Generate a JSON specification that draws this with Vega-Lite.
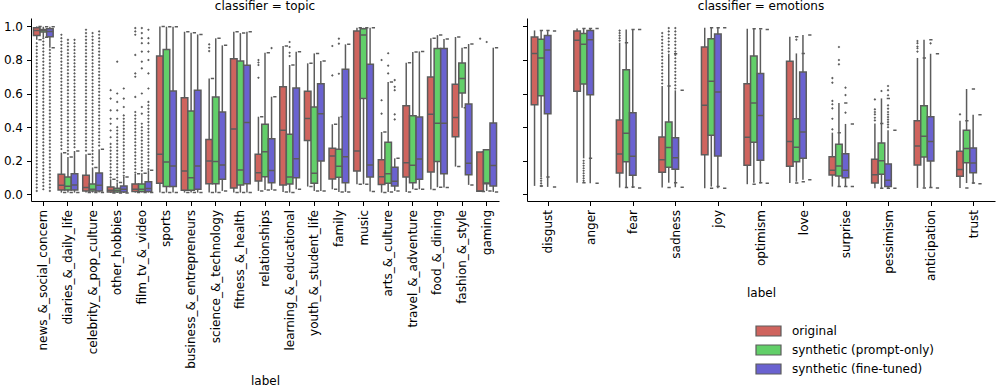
{
"$schema": "https://vega.github.io/schema/vega-lite/v6.json",
"background": "white",
"padding": {"left": 3, "top": 0, "right": 2, "bottom": 0},
"config": {
  "font": "DejaVu Sans",
  "view": {"stroke": null},
  "axis": {"domainColor": "black", "tickColor": "black", "labelColor": "black", "titleColor": "black", "labelFontSize": 12, "titleFontSize": 12, "titleFontWeight": "normal", "grid": false, "tickSize": 4.5, "domainWidth": 1, "tickWidth": 1, "labelPadding": 4, "titlePadding": 7, "labelOverlap": false, "labelBound": false, "labelFlush": false},
  "title": {"fontSize": 12, "fontWeight": "normal", "color": "black", "anchor": "middle", "frame": "group", "offset": 5},
  "concat": {"spacing": 23}
},
"datasets": {
"tb": [
{"l":"news_&_social_concern","h":"o","lo":0.92,"q1":0.946,"med":0.976,"q3":0.992,"hi":1.0},
{"l":"news_&_social_concern","h":"p","lo":0.935,"q1":0.966,"med":0.975,"q3":0.982,"hi":0.998},
{"l":"news_&_social_concern","h":"f","lo":0.873,"q1":0.938,"med":0.97,"q3":0.986,"hi":0.998},
{"l":"diaries_&_daily_life","h":"o","lo":0.01,"q1":0.026,"med":0.054,"q3":0.119,"hi":0.248},
{"l":"diaries_&_daily_life","h":"p","lo":0.01,"q1":0.026,"med":0.048,"q3":0.103,"hi":0.222},
{"l":"diaries_&_daily_life","h":"f","lo":0.01,"q1":0.026,"med":0.056,"q3":0.123,"hi":0.258},
{"l":"celebrity_&_pop_culture","h":"o","lo":0.01,"q1":0.02,"med":0.04,"q3":0.113,"hi":0.238},
{"l":"celebrity_&_pop_culture","h":"p","lo":0.01,"q1":0.02,"med":0.03,"q3":0.062,"hi":0.16},
{"l":"celebrity_&_pop_culture","h":"f","lo":0.01,"q1":0.02,"med":0.054,"q3":0.127,"hi":0.268},
{"l":"other_hobbies","h":"o","lo":0.008,"q1":0.014,"med":0.024,"q3":0.044,"hi":0.089},
{"l":"other_hobbies","h":"p","lo":0.008,"q1":0.014,"med":0.024,"q3":0.036,"hi":0.07},
{"l":"other_hobbies","h":"f","lo":0.008,"q1":0.014,"med":0.03,"q3":0.05,"hi":0.103},
{"l":"film_tv_&_video","h":"o","lo":0.01,"q1":0.016,"med":0.03,"q3":0.062,"hi":0.123},
{"l":"film_tv_&_video","h":"p","lo":0.01,"q1":0.016,"med":0.03,"q3":0.062,"hi":0.125},
{"l":"film_tv_&_video","h":"f","lo":0.01,"q1":0.016,"med":0.035,"q3":0.075,"hi":0.143},
{"l":"sports","h":"o","lo":0.01,"q1":0.065,"med":0.238,"q3":0.823,"hi":1.0},
{"l":"sports","h":"p","lo":0.01,"q1":0.046,"med":0.192,"q3":0.863,"hi":0.998},
{"l":"sports","h":"f","lo":0.01,"q1":0.046,"med":0.169,"q3":0.615,"hi":0.998},
{"l":"business_&_entrepreneurs","h":"o","lo":0.01,"q1":0.024,"med":0.139,"q3":0.575,"hi":0.968},
{"l":"business_&_entrepreneurs","h":"p","lo":0.01,"q1":0.024,"med":0.099,"q3":0.496,"hi":0.962},
{"l":"business_&_entrepreneurs","h":"f","lo":0.01,"q1":0.03,"med":0.169,"q3":0.619,"hi":0.952},
{"l":"science_&_technology","h":"o","lo":0.01,"q1":0.063,"med":0.198,"q3":0.327,"hi":0.69},
{"l":"science_&_technology","h":"p","lo":0.01,"q1":0.063,"med":0.196,"q3":0.579,"hi":0.929},
{"l":"science_&_technology","h":"f","lo":0.02,"q1":0.089,"med":0.175,"q3":0.49,"hi":0.887},
{"l":"fitness_&_health","h":"o","lo":0.01,"q1":0.038,"med":0.389,"q3":0.808,"hi":0.968},
{"l":"fitness_&_health","h":"p","lo":0.01,"q1":0.056,"med":0.145,"q3":0.794,"hi":0.96},
{"l":"fitness_&_health","h":"f","lo":0.01,"q1":0.063,"med":0.427,"q3":0.768,"hi":0.968},
{"l":"relationships","h":"o","lo":0.02,"q1":0.079,"med":0.129,"q3":0.238,"hi":0.462},
{"l":"relationships","h":"p","lo":0.026,"q1":0.105,"med":0.254,"q3":0.417,"hi":0.843},
{"l":"relationships","h":"f","lo":0.026,"q1":0.069,"med":0.141,"q3":0.331,"hi":0.581},
{"l":"learning_&_educational","h":"o","lo":0.014,"q1":0.056,"med":0.381,"q3":0.641,"hi":0.883},
{"l":"learning_&_educational","h":"p","lo":0.01,"q1":0.062,"med":0.103,"q3":0.357,"hi":0.77},
{"l":"learning_&_educational","h":"f","lo":0.03,"q1":0.099,"med":0.212,"q3":0.633,"hi":0.849},
{"l":"youth_&_student_life","h":"o","lo":0.046,"q1":0.321,"med":0.452,"q3":0.613,"hi":0.78},
{"l":"youth_&_student_life","h":"p","lo":0.02,"q1":0.065,"med":0.125,"q3":0.52,"hi":0.839},
{"l":"youth_&_student_life","h":"f","lo":0.02,"q1":0.198,"med":0.48,"q3":0.659,"hi":0.794},
{"l":"family","h":"o","lo":0.03,"q1":0.091,"med":0.228,"q3":0.274,"hi":0.417},
{"l":"family","h":"p","lo":0.014,"q1":0.101,"med":0.167,"q3":0.268,"hi":0.462},
{"l":"family","h":"f","lo":0.014,"q1":0.069,"med":0.224,"q3":0.744,"hi":0.893},
{"l":"music","h":"o","lo":0.06,"q1":0.139,"med":0.258,"q3":0.972,"hi":0.992},
{"l":"music","h":"p","lo":0.06,"q1":0.571,"med":0.948,"q3":0.986,"hi":0.992},
{"l":"music","h":"f","lo":0.016,"q1":0.103,"med":0.175,"q3":0.774,"hi":0.992},
{"l":"arts_&_culture","h":"o","lo":0.01,"q1":0.058,"med":0.105,"q3":0.206,"hi":0.371},
{"l":"arts_&_culture","h":"p","lo":0.014,"q1":0.065,"med":0.123,"q3":0.31,"hi":0.669},
{"l":"arts_&_culture","h":"f","lo":0.02,"q1":0.05,"med":0.077,"q3":0.161,"hi":0.214},
{"l":"travel_&_adventure","h":"o","lo":0.014,"q1":0.103,"med":0.188,"q3":0.528,"hi":0.784},
{"l":"travel_&_adventure","h":"p","lo":0.03,"q1":0.069,"med":0.173,"q3":0.468,"hi":0.847},
{"l":"travel_&_adventure","h":"f","lo":0.03,"q1":0.089,"med":0.21,"q3":0.46,"hi":0.851},
{"l":"food_&_dining","h":"o","lo":0.028,"q1":0.133,"med":0.476,"q3":0.698,"hi":0.929},
{"l":"food_&_dining","h":"p","lo":0.042,"q1":0.196,"med":0.423,"q3":0.869,"hi":0.948},
{"l":"food_&_dining","h":"f","lo":0.04,"q1":0.123,"med":0.423,"q3":0.869,"hi":0.925},
{"l":"fashion_&_style","h":"o","lo":0.165,"q1":0.343,"med":0.458,"q3":0.655,"hi":0.937},
{"l":"fashion_&_style","h":"p","lo":0.516,"q1":0.603,"med":0.69,"q3":0.782,"hi":0.873},
{"l":"fashion_&_style","h":"f","lo":0.056,"q1":0.117,"med":0.185,"q3":0.538,"hi":0.895},
{"l":"gaming","h":"o","lo":0.016,"q1":0.018,"med":0.02,"q3":0.252,"hi":0.252},
{"l":"gaming","h":"p","lo":0.02,"q1":0.063,"med":0.067,"q3":0.266,"hi":0.266},
{"l":"gaming","h":"f","lo":0.014,"q1":0.05,"med":0.171,"q3":0.425,"hi":0.873}
],
"eb": [
{"l":"disgust","h":"o","lo":0.05,"q1":0.534,"med":0.839,"q3":0.937,"hi":0.976},
{"l":"disgust","h":"p","lo":0.103,"q1":0.587,"med":0.812,"q3":0.923,"hi":0.976},
{"l":"disgust","h":"f","lo":0.044,"q1":0.48,"med":0.859,"q3":0.946,"hi":0.972},
{"l":"anger","h":"o","lo":0.069,"q1":0.613,"med":0.917,"q3":0.972,"hi":0.988},
{"l":"anger","h":"p","lo":0.214,"q1":0.657,"med":0.893,"q3":0.958,"hi":0.988},
{"l":"anger","h":"f","lo":0.065,"q1":0.593,"med":0.921,"q3":0.976,"hi":0.988},
{"l":"fear","h":"o","lo":0.04,"q1":0.127,"med":0.24,"q3":0.442,"hi":0.903},
{"l":"fear","h":"p","lo":0.044,"q1":0.194,"med":0.363,"q3":0.742,"hi":0.982},
{"l":"fear","h":"f","lo":0.038,"q1":0.113,"med":0.226,"q3":0.486,"hi":0.982},
{"l":"sadness","h":"o","lo":0.04,"q1":0.131,"med":0.206,"q3":0.341,"hi":0.645},
{"l":"sadness","h":"p","lo":0.069,"q1":0.161,"med":0.278,"q3":0.431,"hi":0.837},
{"l":"sadness","h":"f","lo":0.042,"q1":0.149,"med":0.218,"q3":0.337,"hi":0.619},
{"l":"joy","h":"o","lo":0.036,"q1":0.236,"med":0.53,"q3":0.877,"hi":0.992},
{"l":"joy","h":"p","lo":0.046,"q1":0.351,"med":0.673,"q3":0.927,"hi":0.992},
{"l":"joy","h":"f","lo":0.036,"q1":0.228,"med":0.609,"q3":0.954,"hi":0.992},
{"l":"optimism","h":"o","lo":0.06,"q1":0.173,"med":0.339,"q3":0.659,"hi":0.986},
{"l":"optimism","h":"p","lo":0.069,"q1":0.31,"med":0.544,"q3":0.823,"hi":0.986},
{"l":"optimism","h":"f","lo":0.065,"q1":0.202,"med":0.47,"q3":0.72,"hi":0.982},
{"l":"love","h":"o","lo":0.067,"q1":0.167,"med":0.315,"q3":0.792,"hi":0.938},
{"l":"love","h":"p","lo":0.075,"q1":0.194,"med":0.28,"q3":0.45,"hi":0.839},
{"l":"love","h":"f","lo":0.087,"q1":0.214,"med":0.371,"q3":0.728,"hi":0.948},
{"l":"surprise","h":"o","lo":0.046,"q1":0.115,"med":0.143,"q3":0.224,"hi":0.367},
{"l":"surprise","h":"p","lo":0.046,"q1":0.109,"med":0.169,"q3":0.298,"hi":0.544},
{"l":"surprise","h":"f","lo":0.046,"q1":0.099,"med":0.143,"q3":0.242,"hi":0.419},
{"l":"pessimism","h":"o","lo":0.036,"q1":0.067,"med":0.117,"q3":0.208,"hi":0.421},
{"l":"pessimism","h":"p","lo":0.036,"q1":0.119,"med":0.2,"q3":0.306,"hi":0.571},
{"l":"pessimism","h":"f","lo":0.036,"q1":0.046,"med":0.083,"q3":0.181,"hi":0.381},
{"l":"anticipation","h":"o","lo":0.038,"q1":0.175,"med":0.288,"q3":0.438,"hi":0.812},
{"l":"anticipation","h":"p","lo":0.04,"q1":0.222,"med":0.345,"q3":0.528,"hi":0.921},
{"l":"anticipation","h":"f","lo":0.038,"q1":0.198,"med":0.315,"q3":0.462,"hi":0.837},
{"l":"trust","h":"o","lo":0.038,"q1":0.107,"med":0.147,"q3":0.256,"hi":0.438},
{"l":"trust","h":"p","lo":0.067,"q1":0.188,"med":0.272,"q3":0.381,"hi":0.627},
{"l":"trust","h":"f","lo":0.063,"q1":0.129,"med":0.187,"q3":0.276,"hi":0.474}
],
"to": [
{"l":"news_&_social_concern","h":"o","v":0.02},{"l":"news_&_social_concern","h":"o","v":0.04},{"l":"news_&_social_concern","h":"o","v":0.06},{"l":"news_&_social_concern","h":"o","v":0.08},{"l":"news_&_social_concern","h":"o","v":0.10},{"l":"news_&_social_concern","h":"o","v":0.12},{"l":"news_&_social_concern","h":"o","v":0.14},{"l":"news_&_social_concern","h":"o","v":0.16},{"l":"news_&_social_concern","h":"o","v":0.18},{"l":"news_&_social_concern","h":"o","v":0.20},{"l":"news_&_social_concern","h":"o","v":0.22},{"l":"news_&_social_concern","h":"o","v":0.24},{"l":"news_&_social_concern","h":"o","v":0.26},{"l":"news_&_social_concern","h":"o","v":0.28},{"l":"news_&_social_concern","h":"o","v":0.30},{"l":"news_&_social_concern","h":"o","v":0.32},{"l":"news_&_social_concern","h":"o","v":0.34},{"l":"news_&_social_concern","h":"o","v":0.36},{"l":"news_&_social_concern","h":"o","v":0.38},{"l":"news_&_social_concern","h":"o","v":0.40},{"l":"news_&_social_concern","h":"o","v":0.42},{"l":"news_&_social_concern","h":"o","v":0.44},{"l":"news_&_social_concern","h":"o","v":0.46},{"l":"news_&_social_concern","h":"o","v":0.48},{"l":"news_&_social_concern","h":"o","v":0.50},{"l":"news_&_social_concern","h":"o","v":0.52},{"l":"news_&_social_concern","h":"o","v":0.54},{"l":"news_&_social_concern","h":"o","v":0.56},{"l":"news_&_social_concern","h":"o","v":0.58},{"l":"news_&_social_concern","h":"o","v":0.60},{"l":"news_&_social_concern","h":"o","v":0.62},{"l":"news_&_social_concern","h":"o","v":0.64},{"l":"news_&_social_concern","h":"o","v":0.66},{"l":"news_&_social_concern","h":"o","v":0.68},{"l":"news_&_social_concern","h":"o","v":0.70},{"l":"news_&_social_concern","h":"o","v":0.72},{"l":"news_&_social_concern","h":"o","v":0.74},{"l":"news_&_social_concern","h":"o","v":0.76},{"l":"news_&_social_concern","h":"o","v":0.78},{"l":"news_&_social_concern","h":"o","v":0.80},{"l":"news_&_social_concern","h":"o","v":0.82},{"l":"news_&_social_concern","h":"o","v":0.84},{"l":"news_&_social_concern","h":"o","v":0.86},{"l":"news_&_social_concern","h":"o","v":0.88},{"l":"news_&_social_concern","h":"o","v":0.90},
{"l":"news_&_social_concern","h":"p","v":0.03},{"l":"news_&_social_concern","h":"p","v":0.05},{"l":"news_&_social_concern","h":"p","v":0.07},{"l":"news_&_social_concern","h":"p","v":0.09},{"l":"news_&_social_concern","h":"p","v":0.11},{"l":"news_&_social_concern","h":"p","v":0.13},{"l":"news_&_social_concern","h":"p","v":0.15},{"l":"news_&_social_concern","h":"p","v":0.17},{"l":"news_&_social_concern","h":"p","v":0.19},{"l":"news_&_social_concern","h":"p","v":0.21},{"l":"news_&_social_concern","h":"p","v":0.23},{"l":"news_&_social_concern","h":"p","v":0.25},{"l":"news_&_social_concern","h":"p","v":0.27},{"l":"news_&_social_concern","h":"p","v":0.29},{"l":"news_&_social_concern","h":"p","v":0.31},{"l":"news_&_social_concern","h":"p","v":0.33},{"l":"news_&_social_concern","h":"p","v":0.35},{"l":"news_&_social_concern","h":"p","v":0.37},{"l":"news_&_social_concern","h":"p","v":0.39},{"l":"news_&_social_concern","h":"p","v":0.41},{"l":"news_&_social_concern","h":"p","v":0.43},{"l":"news_&_social_concern","h":"p","v":0.45},{"l":"news_&_social_concern","h":"p","v":0.47},{"l":"news_&_social_concern","h":"p","v":0.49},{"l":"news_&_social_concern","h":"p","v":0.51},{"l":"news_&_social_concern","h":"p","v":0.53},{"l":"news_&_social_concern","h":"p","v":0.55},{"l":"news_&_social_concern","h":"p","v":0.57},{"l":"news_&_social_concern","h":"p","v":0.59},{"l":"news_&_social_concern","h":"p","v":0.61},{"l":"news_&_social_concern","h":"p","v":0.63},{"l":"news_&_social_concern","h":"p","v":0.65},{"l":"news_&_social_concern","h":"p","v":0.67},{"l":"news_&_social_concern","h":"p","v":0.69},{"l":"news_&_social_concern","h":"p","v":0.71},{"l":"news_&_social_concern","h":"p","v":0.73},{"l":"news_&_social_concern","h":"p","v":0.75},{"l":"news_&_social_concern","h":"p","v":0.77},{"l":"news_&_social_concern","h":"p","v":0.79},{"l":"news_&_social_concern","h":"p","v":0.81},{"l":"news_&_social_concern","h":"p","v":0.83},{"l":"news_&_social_concern","h":"p","v":0.85},{"l":"news_&_social_concern","h":"p","v":0.87},{"l":"news_&_social_concern","h":"p","v":0.89},{"l":"news_&_social_concern","h":"p","v":0.91},{"l":"news_&_social_concern","h":"p","v":0.93},
{"l":"news_&_social_concern","h":"f","v":0.02},{"l":"news_&_social_concern","h":"f","v":0.04},{"l":"news_&_social_concern","h":"f","v":0.06},{"l":"news_&_social_concern","h":"f","v":0.08},{"l":"news_&_social_concern","h":"f","v":0.10},{"l":"news_&_social_concern","h":"f","v":0.12},{"l":"news_&_social_concern","h":"f","v":0.14},{"l":"news_&_social_concern","h":"f","v":0.16},{"l":"news_&_social_concern","h":"f","v":0.18},{"l":"news_&_social_concern","h":"f","v":0.20},{"l":"news_&_social_concern","h":"f","v":0.22},{"l":"news_&_social_concern","h":"f","v":0.24},{"l":"news_&_social_concern","h":"f","v":0.26},{"l":"news_&_social_concern","h":"f","v":0.28},{"l":"news_&_social_concern","h":"f","v":0.30},{"l":"news_&_social_concern","h":"f","v":0.32},{"l":"news_&_social_concern","h":"f","v":0.34},{"l":"news_&_social_concern","h":"f","v":0.36},{"l":"news_&_social_concern","h":"f","v":0.38},{"l":"news_&_social_concern","h":"f","v":0.40},{"l":"news_&_social_concern","h":"f","v":0.42},{"l":"news_&_social_concern","h":"f","v":0.44},{"l":"news_&_social_concern","h":"f","v":0.46},{"l":"news_&_social_concern","h":"f","v":0.48},{"l":"news_&_social_concern","h":"f","v":0.50},{"l":"news_&_social_concern","h":"f","v":0.52},{"l":"news_&_social_concern","h":"f","v":0.54},{"l":"news_&_social_concern","h":"f","v":0.56},{"l":"news_&_social_concern","h":"f","v":0.58},{"l":"news_&_social_concern","h":"f","v":0.60},{"l":"news_&_social_concern","h":"f","v":0.62},{"l":"news_&_social_concern","h":"f","v":0.64},{"l":"news_&_social_concern","h":"f","v":0.66},{"l":"news_&_social_concern","h":"f","v":0.68},{"l":"news_&_social_concern","h":"f","v":0.70},{"l":"news_&_social_concern","h":"f","v":0.72},{"l":"news_&_social_concern","h":"f","v":0.74},{"l":"news_&_social_concern","h":"f","v":0.76},{"l":"news_&_social_concern","h":"f","v":0.78},{"l":"news_&_social_concern","h":"f","v":0.80},{"l":"news_&_social_concern","h":"f","v":0.82},{"l":"news_&_social_concern","h":"f","v":0.84},{"l":"news_&_social_concern","h":"f","v":0.86},
{"l":"diaries_&_daily_life","h":"o","v":0.27},{"l":"diaries_&_daily_life","h":"o","v":0.29},{"l":"diaries_&_daily_life","h":"o","v":0.31},{"l":"diaries_&_daily_life","h":"o","v":0.33},{"l":"diaries_&_daily_life","h":"o","v":0.35},{"l":"diaries_&_daily_life","h":"o","v":0.37},{"l":"diaries_&_daily_life","h":"o","v":0.39},{"l":"diaries_&_daily_life","h":"o","v":0.41},{"l":"diaries_&_daily_life","h":"o","v":0.43},{"l":"diaries_&_daily_life","h":"o","v":0.45},{"l":"diaries_&_daily_life","h":"o","v":0.47},{"l":"diaries_&_daily_life","h":"o","v":0.49},{"l":"diaries_&_daily_life","h":"o","v":0.51},{"l":"diaries_&_daily_life","h":"o","v":0.53},{"l":"diaries_&_daily_life","h":"o","v":0.55},{"l":"diaries_&_daily_life","h":"o","v":0.57},{"l":"diaries_&_daily_life","h":"o","v":0.59},{"l":"diaries_&_daily_life","h":"o","v":0.61},{"l":"diaries_&_daily_life","h":"o","v":0.63},{"l":"diaries_&_daily_life","h":"o","v":0.65},{"l":"diaries_&_daily_life","h":"o","v":0.67},{"l":"diaries_&_daily_life","h":"o","v":0.69},{"l":"diaries_&_daily_life","h":"o","v":0.71},{"l":"diaries_&_daily_life","h":"o","v":0.73},{"l":"diaries_&_daily_life","h":"o","v":0.75},{"l":"diaries_&_daily_life","h":"o","v":0.77},{"l":"diaries_&_daily_life","h":"o","v":0.79},{"l":"diaries_&_daily_life","h":"o","v":0.81},{"l":"diaries_&_daily_life","h":"o","v":0.83},{"l":"diaries_&_daily_life","h":"o","v":0.85},{"l":"diaries_&_daily_life","h":"o","v":0.87},{"l":"diaries_&_daily_life","h":"o","v":0.89},{"l":"diaries_&_daily_life","h":"o","v":0.91},{"l":"diaries_&_daily_life","h":"o","v":0.93},{"l":"diaries_&_daily_life","h":"o","v":0.95},
{"l":"diaries_&_daily_life","h":"p","v":0.24},{"l":"diaries_&_daily_life","h":"p","v":0.26},{"l":"diaries_&_daily_life","h":"p","v":0.28},{"l":"diaries_&_daily_life","h":"p","v":0.30},{"l":"diaries_&_daily_life","h":"p","v":0.32},{"l":"diaries_&_daily_life","h":"p","v":0.34},{"l":"diaries_&_daily_life","h":"p","v":0.36},{"l":"diaries_&_daily_life","h":"p","v":0.38},{"l":"diaries_&_daily_life","h":"p","v":0.40},{"l":"diaries_&_daily_life","h":"p","v":0.42},{"l":"diaries_&_daily_life","h":"p","v":0.44},{"l":"diaries_&_daily_life","h":"p","v":0.46},{"l":"diaries_&_daily_life","h":"p","v":0.48},{"l":"diaries_&_daily_life","h":"p","v":0.50},{"l":"diaries_&_daily_life","h":"p","v":0.52},{"l":"diaries_&_daily_life","h":"p","v":0.54},{"l":"diaries_&_daily_life","h":"p","v":0.56},{"l":"diaries_&_daily_life","h":"p","v":0.58},{"l":"diaries_&_daily_life","h":"p","v":0.60},{"l":"diaries_&_daily_life","h":"p","v":0.62},{"l":"diaries_&_daily_life","h":"p","v":0.64},{"l":"diaries_&_daily_life","h":"p","v":0.66},{"l":"diaries_&_daily_life","h":"p","v":0.68},{"l":"diaries_&_daily_life","h":"p","v":0.70},{"l":"diaries_&_daily_life","h":"p","v":0.72},{"l":"diaries_&_daily_life","h":"p","v":0.74},{"l":"diaries_&_daily_life","h":"p","v":0.76},{"l":"diaries_&_daily_life","h":"p","v":0.78},{"l":"diaries_&_daily_life","h":"p","v":0.80},{"l":"diaries_&_daily_life","h":"p","v":0.82},{"l":"diaries_&_daily_life","h":"p","v":0.84},{"l":"diaries_&_daily_life","h":"p","v":0.86},{"l":"diaries_&_daily_life","h":"p","v":0.88},{"l":"diaries_&_daily_life","h":"p","v":0.90},{"l":"diaries_&_daily_life","h":"p","v":0.92},
{"l":"diaries_&_daily_life","h":"f","v":0.28},{"l":"diaries_&_daily_life","h":"f","v":0.30},{"l":"diaries_&_daily_life","h":"f","v":0.32},{"l":"diaries_&_daily_life","h":"f","v":0.34},{"l":"diaries_&_daily_life","h":"f","v":0.36},{"l":"diaries_&_daily_life","h":"f","v":0.38},{"l":"diaries_&_daily_life","h":"f","v":0.40},{"l":"diaries_&_daily_life","h":"f","v":0.42},{"l":"diaries_&_daily_life","h":"f","v":0.44},{"l":"diaries_&_daily_life","h":"f","v":0.46},{"l":"diaries_&_daily_life","h":"f","v":0.48},{"l":"diaries_&_daily_life","h":"f","v":0.50},{"l":"diaries_&_daily_life","h":"f","v":0.52},{"l":"diaries_&_daily_life","h":"f","v":0.54},{"l":"diaries_&_daily_life","h":"f","v":0.56},{"l":"diaries_&_daily_life","h":"f","v":0.58},{"l":"diaries_&_daily_life","h":"f","v":0.60},{"l":"diaries_&_daily_life","h":"f","v":0.62},{"l":"diaries_&_daily_life","h":"f","v":0.64},{"l":"diaries_&_daily_life","h":"f","v":0.66},{"l":"diaries_&_daily_life","h":"f","v":0.68},{"l":"diaries_&_daily_life","h":"f","v":0.70},{"l":"diaries_&_daily_life","h":"f","v":0.72},{"l":"diaries_&_daily_life","h":"f","v":0.74},{"l":"diaries_&_daily_life","h":"f","v":0.76},{"l":"diaries_&_daily_life","h":"f","v":0.78},{"l":"diaries_&_daily_life","h":"f","v":0.80},{"l":"diaries_&_daily_life","h":"f","v":0.82},{"l":"diaries_&_daily_life","h":"f","v":0.84},{"l":"diaries_&_daily_life","h":"f","v":0.86},{"l":"diaries_&_daily_life","h":"f","v":0.88},{"l":"diaries_&_daily_life","h":"f","v":0.90},{"l":"diaries_&_daily_life","h":"f","v":0.92},
{"l":"celebrity_&_pop_culture","h":"o","v":0.26},{"l":"celebrity_&_pop_culture","h":"o","v":0.28},{"l":"celebrity_&_pop_culture","h":"o","v":0.30},{"l":"celebrity_&_pop_culture","h":"o","v":0.32},{"l":"celebrity_&_pop_culture","h":"o","v":0.34},{"l":"celebrity_&_pop_culture","h":"o","v":0.36},{"l":"celebrity_&_pop_culture","h":"o","v":0.38},{"l":"celebrity_&_pop_culture","h":"o","v":0.40},{"l":"celebrity_&_pop_culture","h":"o","v":0.42},{"l":"celebrity_&_pop_culture","h":"o","v":0.44},{"l":"celebrity_&_pop_culture","h":"o","v":0.46},{"l":"celebrity_&_pop_culture","h":"o","v":0.48},{"l":"celebrity_&_pop_culture","h":"o","v":0.50},{"l":"celebrity_&_pop_culture","h":"o","v":0.52},{"l":"celebrity_&_pop_culture","h":"o","v":0.54},{"l":"celebrity_&_pop_culture","h":"o","v":0.56},{"l":"celebrity_&_pop_culture","h":"o","v":0.58},{"l":"celebrity_&_pop_culture","h":"o","v":0.60},{"l":"celebrity_&_pop_culture","h":"o","v":0.62},{"l":"celebrity_&_pop_culture","h":"o","v":0.64},{"l":"celebrity_&_pop_culture","h":"o","v":0.66},{"l":"celebrity_&_pop_culture","h":"o","v":0.68},{"l":"celebrity_&_pop_culture","h":"o","v":0.70},{"l":"celebrity_&_pop_culture","h":"o","v":0.72},{"l":"celebrity_&_pop_culture","h":"o","v":0.74},{"l":"celebrity_&_pop_culture","h":"o","v":0.76},{"l":"celebrity_&_pop_culture","h":"o","v":0.78},{"l":"celebrity_&_pop_culture","h":"o","v":0.80},{"l":"celebrity_&_pop_culture","h":"o","v":0.82},{"l":"celebrity_&_pop_culture","h":"o","v":0.84},{"l":"celebrity_&_pop_culture","h":"o","v":0.86},{"l":"celebrity_&_pop_culture","h":"o","v":0.88},{"l":"celebrity_&_pop_culture","h":"o","v":0.90},{"l":"celebrity_&_pop_culture","h":"o","v":0.92},{"l":"celebrity_&_pop_culture","h":"o","v":0.94},{"l":"celebrity_&_pop_culture","h":"o","v":0.96},{"l":"celebrity_&_pop_culture","h":"o","v":0.98},
{"l":"celebrity_&_pop_culture","h":"p","v":0.18},{"l":"celebrity_&_pop_culture","h":"p","v":0.20},{"l":"celebrity_&_pop_culture","h":"p","v":0.22},{"l":"celebrity_&_pop_culture","h":"p","v":0.24},{"l":"celebrity_&_pop_culture","h":"p","v":0.26},{"l":"celebrity_&_pop_culture","h":"p","v":0.28},{"l":"celebrity_&_pop_culture","h":"p","v":0.30},{"l":"celebrity_&_pop_culture","h":"p","v":0.32},{"l":"celebrity_&_pop_culture","h":"p","v":0.34},{"l":"celebrity_&_pop_culture","h":"p","v":0.36},{"l":"celebrity_&_pop_culture","h":"p","v":0.38},{"l":"celebrity_&_pop_culture","h":"p","v":0.40},{"l":"celebrity_&_pop_culture","h":"p","v":0.42},{"l":"celebrity_&_pop_culture","h":"p","v":0.44},{"l":"celebrity_&_pop_culture","h":"p","v":0.46},{"l":"celebrity_&_pop_culture","h":"p","v":0.48},{"l":"celebrity_&_pop_culture","h":"p","v":0.50},{"l":"celebrity_&_pop_culture","h":"p","v":0.52},{"l":"celebrity_&_pop_culture","h":"p","v":0.54},{"l":"celebrity_&_pop_culture","h":"p","v":0.56},{"l":"celebrity_&_pop_culture","h":"p","v":0.58},{"l":"celebrity_&_pop_culture","h":"p","v":0.60},{"l":"celebrity_&_pop_culture","h":"p","v":0.62},{"l":"celebrity_&_pop_culture","h":"p","v":0.64},{"l":"celebrity_&_pop_culture","h":"p","v":0.66},{"l":"celebrity_&_pop_culture","h":"p","v":0.68},{"l":"celebrity_&_pop_culture","h":"p","v":0.70},{"l":"celebrity_&_pop_culture","h":"p","v":0.72},{"l":"celebrity_&_pop_culture","h":"p","v":0.74},{"l":"celebrity_&_pop_culture","h":"p","v":0.76},{"l":"celebrity_&_pop_culture","h":"p","v":0.78},{"l":"celebrity_&_pop_culture","h":"p","v":0.80},{"l":"celebrity_&_pop_culture","h":"p","v":0.82},{"l":"celebrity_&_pop_culture","h":"p","v":0.84},{"l":"celebrity_&_pop_culture","h":"p","v":0.86},{"l":"celebrity_&_pop_culture","h":"p","v":0.88},{"l":"celebrity_&_pop_culture","h":"p","v":0.90},{"l":"celebrity_&_pop_culture","h":"p","v":0.92},{"l":"celebrity_&_pop_culture","h":"p","v":0.94},{"l":"celebrity_&_pop_culture","h":"p","v":0.96},
{"l":"celebrity_&_pop_culture","h":"f","v":0.29},{"l":"celebrity_&_pop_culture","h":"f","v":0.31},{"l":"celebrity_&_pop_culture","h":"f","v":0.33},{"l":"celebrity_&_pop_culture","h":"f","v":0.35},{"l":"celebrity_&_pop_culture","h":"f","v":0.37},{"l":"celebrity_&_pop_culture","h":"f","v":0.39},{"l":"celebrity_&_pop_culture","h":"f","v":0.41},{"l":"celebrity_&_pop_culture","h":"f","v":0.43},{"l":"celebrity_&_pop_culture","h":"f","v":0.45},{"l":"celebrity_&_pop_culture","h":"f","v":0.47},{"l":"celebrity_&_pop_culture","h":"f","v":0.49},{"l":"celebrity_&_pop_culture","h":"f","v":0.51},{"l":"celebrity_&_pop_culture","h":"f","v":0.53},{"l":"celebrity_&_pop_culture","h":"f","v":0.55},{"l":"celebrity_&_pop_culture","h":"f","v":0.57},{"l":"celebrity_&_pop_culture","h":"f","v":0.59},{"l":"celebrity_&_pop_culture","h":"f","v":0.61},{"l":"celebrity_&_pop_culture","h":"f","v":0.63},{"l":"celebrity_&_pop_culture","h":"f","v":0.65},{"l":"celebrity_&_pop_culture","h":"f","v":0.67},{"l":"celebrity_&_pop_culture","h":"f","v":0.69},{"l":"celebrity_&_pop_culture","h":"f","v":0.71},{"l":"celebrity_&_pop_culture","h":"f","v":0.73},{"l":"celebrity_&_pop_culture","h":"f","v":0.75},{"l":"celebrity_&_pop_culture","h":"f","v":0.77},{"l":"celebrity_&_pop_culture","h":"f","v":0.79},{"l":"celebrity_&_pop_culture","h":"f","v":0.81},{"l":"celebrity_&_pop_culture","h":"f","v":0.83},{"l":"celebrity_&_pop_culture","h":"f","v":0.85},{"l":"celebrity_&_pop_culture","h":"f","v":0.87},{"l":"celebrity_&_pop_culture","h":"f","v":0.89},{"l":"celebrity_&_pop_culture","h":"f","v":0.91},{"l":"celebrity_&_pop_culture","h":"f","v":0.93},{"l":"celebrity_&_pop_culture","h":"f","v":0.95},{"l":"celebrity_&_pop_culture","h":"f","v":0.97},
{"l":"other_hobbies","h":"o","v":0.10},{"l":"other_hobbies","h":"o","v":0.12},{"l":"other_hobbies","h":"o","v":0.14},{"l":"other_hobbies","h":"o","v":0.16},{"l":"other_hobbies","h":"o","v":0.18},{"l":"other_hobbies","h":"o","v":0.20},{"l":"other_hobbies","h":"o","v":0.22},{"l":"other_hobbies","h":"o","v":0.24},{"l":"other_hobbies","h":"o","v":0.26},{"l":"other_hobbies","h":"o","v":0.28},{"l":"other_hobbies","h":"o","v":0.30},{"l":"other_hobbies","h":"o","v":0.34},{"l":"other_hobbies","h":"o","v":0.38},{"l":"other_hobbies","h":"o","v":0.42},{"l":"other_hobbies","h":"o","v":0.45},{"l":"other_hobbies","h":"o","v":0.50},{"l":"other_hobbies","h":"o","v":0.57},{"l":"other_hobbies","h":"o","v":0.62},
{"l":"other_hobbies","h":"p","v":0.08},{"l":"other_hobbies","h":"p","v":0.10},{"l":"other_hobbies","h":"p","v":0.12},{"l":"other_hobbies","h":"p","v":0.14},{"l":"other_hobbies","h":"p","v":0.16},{"l":"other_hobbies","h":"p","v":0.18},{"l":"other_hobbies","h":"p","v":0.20},{"l":"other_hobbies","h":"p","v":0.22},{"l":"other_hobbies","h":"p","v":0.24},{"l":"other_hobbies","h":"p","v":0.26},{"l":"other_hobbies","h":"p","v":0.28},{"l":"other_hobbies","h":"p","v":0.30},{"l":"other_hobbies","h":"p","v":0.32},{"l":"other_hobbies","h":"p","v":0.34},{"l":"other_hobbies","h":"p","v":0.36},{"l":"other_hobbies","h":"p","v":0.38},{"l":"other_hobbies","h":"p","v":0.40},{"l":"other_hobbies","h":"p","v":0.45},{"l":"other_hobbies","h":"p","v":0.50},{"l":"other_hobbies","h":"p","v":0.55},{"l":"other_hobbies","h":"p","v":0.60},{"l":"other_hobbies","h":"p","v":0.79},
{"l":"other_hobbies","h":"f","v":0.11},{"l":"other_hobbies","h":"f","v":0.13},{"l":"other_hobbies","h":"f","v":0.15},{"l":"other_hobbies","h":"f","v":0.17},{"l":"other_hobbies","h":"f","v":0.19},{"l":"other_hobbies","h":"f","v":0.21},{"l":"other_hobbies","h":"f","v":0.23},{"l":"other_hobbies","h":"f","v":0.25},{"l":"other_hobbies","h":"f","v":0.27},{"l":"other_hobbies","h":"f","v":0.29},{"l":"other_hobbies","h":"f","v":0.31},{"l":"other_hobbies","h":"f","v":0.33},{"l":"other_hobbies","h":"f","v":0.35},{"l":"other_hobbies","h":"f","v":0.37},{"l":"other_hobbies","h":"f","v":0.39},{"l":"other_hobbies","h":"f","v":0.41},{"l":"other_hobbies","h":"f","v":0.43},{"l":"other_hobbies","h":"f","v":0.45},{"l":"other_hobbies","h":"f","v":0.47},{"l":"other_hobbies","h":"f","v":0.52},{"l":"other_hobbies","h":"f","v":0.57},{"l":"other_hobbies","h":"f","v":0.63},
{"l":"film_tv_&_video","h":"o","v":0.13},{"l":"film_tv_&_video","h":"o","v":0.15},{"l":"film_tv_&_video","h":"o","v":0.17},{"l":"film_tv_&_video","h":"o","v":0.19},{"l":"film_tv_&_video","h":"o","v":0.21},{"l":"film_tv_&_video","h":"o","v":0.23},{"l":"film_tv_&_video","h":"o","v":0.25},{"l":"film_tv_&_video","h":"o","v":0.27},{"l":"film_tv_&_video","h":"o","v":0.29},{"l":"film_tv_&_video","h":"o","v":0.31},{"l":"film_tv_&_video","h":"o","v":0.33},{"l":"film_tv_&_video","h":"o","v":0.35},{"l":"film_tv_&_video","h":"o","v":0.37},{"l":"film_tv_&_video","h":"o","v":0.39},{"l":"film_tv_&_video","h":"o","v":0.41},{"l":"film_tv_&_video","h":"o","v":0.43},{"l":"film_tv_&_video","h":"o","v":0.45},{"l":"film_tv_&_video","h":"o","v":0.47},{"l":"film_tv_&_video","h":"o","v":0.49},{"l":"film_tv_&_video","h":"o","v":0.58},{"l":"film_tv_&_video","h":"o","v":0.70},{"l":"film_tv_&_video","h":"o","v":0.72},{"l":"film_tv_&_video","h":"o","v":0.83},{"l":"film_tv_&_video","h":"o","v":0.95},{"l":"film_tv_&_video","h":"o","v":0.97},{"l":"film_tv_&_video","h":"o","v":0.99},
{"l":"film_tv_&_video","h":"p","v":0.14},{"l":"film_tv_&_video","h":"p","v":0.16},{"l":"film_tv_&_video","h":"p","v":0.18},{"l":"film_tv_&_video","h":"p","v":0.20},{"l":"film_tv_&_video","h":"p","v":0.22},{"l":"film_tv_&_video","h":"p","v":0.24},{"l":"film_tv_&_video","h":"p","v":0.26},{"l":"film_tv_&_video","h":"p","v":0.28},{"l":"film_tv_&_video","h":"p","v":0.30},{"l":"film_tv_&_video","h":"p","v":0.32},{"l":"film_tv_&_video","h":"p","v":0.34},{"l":"film_tv_&_video","h":"p","v":0.36},{"l":"film_tv_&_video","h":"p","v":0.38},{"l":"film_tv_&_video","h":"p","v":0.40},{"l":"film_tv_&_video","h":"p","v":0.42},{"l":"film_tv_&_video","h":"p","v":0.48},{"l":"film_tv_&_video","h":"p","v":0.52},{"l":"film_tv_&_video","h":"p","v":0.60},{"l":"film_tv_&_video","h":"p","v":0.75},{"l":"film_tv_&_video","h":"p","v":0.79},{"l":"film_tv_&_video","h":"p","v":0.85},{"l":"film_tv_&_video","h":"p","v":0.90},{"l":"film_tv_&_video","h":"p","v":0.93},{"l":"film_tv_&_video","h":"p","v":0.96},{"l":"film_tv_&_video","h":"p","v":0.99},
{"l":"film_tv_&_video","h":"f","v":0.15},{"l":"film_tv_&_video","h":"f","v":0.17},{"l":"film_tv_&_video","h":"f","v":0.19},{"l":"film_tv_&_video","h":"f","v":0.21},{"l":"film_tv_&_video","h":"f","v":0.23},{"l":"film_tv_&_video","h":"f","v":0.25},{"l":"film_tv_&_video","h":"f","v":0.27},{"l":"film_tv_&_video","h":"f","v":0.29},{"l":"film_tv_&_video","h":"f","v":0.31},{"l":"film_tv_&_video","h":"f","v":0.33},{"l":"film_tv_&_video","h":"f","v":0.35},{"l":"film_tv_&_video","h":"f","v":0.37},{"l":"film_tv_&_video","h":"f","v":0.39},{"l":"film_tv_&_video","h":"f","v":0.41},{"l":"film_tv_&_video","h":"f","v":0.43},{"l":"film_tv_&_video","h":"f","v":0.45},{"l":"film_tv_&_video","h":"f","v":0.47},{"l":"film_tv_&_video","h":"f","v":0.49},{"l":"film_tv_&_video","h":"f","v":0.51},{"l":"film_tv_&_video","h":"f","v":0.53},{"l":"film_tv_&_video","h":"f","v":0.55},{"l":"film_tv_&_video","h":"f","v":0.63},{"l":"film_tv_&_video","h":"f","v":0.72},{"l":"film_tv_&_video","h":"f","v":0.80},{"l":"film_tv_&_video","h":"f","v":0.85},{"l":"film_tv_&_video","h":"f","v":0.90},{"l":"film_tv_&_video","h":"f","v":0.93},{"l":"film_tv_&_video","h":"f","v":0.98},
{"l":"science_&_technology","h":"o","v":0.853},{"l":"science_&_technology","h":"o","v":0.873},{"l":"science_&_technology","h":"o","v":0.893},
{"l":"relationships","h":"o","v":0.694},{"l":"relationships","h":"o","v":0.77},{"l":"relationships","h":"o","v":0.785},{"l":"relationships","h":"o","v":0.80},
{"l":"relationships","h":"f","v":0.871},
{"l":"learning_&_educational","h":"p","v":0.823},{"l":"learning_&_educational","h":"p","v":0.843},{"l":"learning_&_educational","h":"p","v":0.877},{"l":"learning_&_educational","h":"p","v":0.907},
{"l":"family","h":"o","v":0.708},{"l":"family","h":"o","v":0.883},
{"l":"family","h":"p","v":0.718},{"l":"family","h":"p","v":0.897},{"l":"family","h":"p","v":0.927},
{"l":"arts_&_culture","h":"o","v":0.48},{"l":"arts_&_culture","h":"o","v":0.56},{"l":"arts_&_culture","h":"o","v":0.80},
{"l":"arts_&_culture","h":"p","v":0.72},{"l":"arts_&_culture","h":"p","v":0.766},{"l":"arts_&_culture","h":"p","v":0.84},
{"l":"arts_&_culture","h":"f","v":0.446},{"l":"arts_&_culture","h":"f","v":0.476},{"l":"arts_&_culture","h":"f","v":0.62},{"l":"arts_&_culture","h":"f","v":0.64},{"l":"arts_&_culture","h":"f","v":0.68},
{"l":"gaming","h":"o","v":0.927},{"l":"gaming","h":"p","v":0.907}
],
"eo": [
{"l":"disgust","h":"p","v":0.05},{"l":"disgust","h":"p","v":0.065},{"l":"disgust","h":"p","v":0.08},{"l":"disgust","h":"p","v":0.095},
{"l":"anger","h":"p","v":0.08},{"l":"anger","h":"p","v":0.095},{"l":"anger","h":"p","v":0.11},{"l":"anger","h":"p","v":0.125},{"l":"anger","h":"p","v":0.14},{"l":"anger","h":"p","v":0.155},{"l":"anger","h":"p","v":0.17},{"l":"anger","h":"p","v":0.185},{"l":"anger","h":"p","v":0.2},
{"l":"fear","h":"o","v":0.915},{"l":"fear","h":"o","v":0.93},{"l":"fear","h":"o","v":0.945},{"l":"fear","h":"o","v":0.96},{"l":"fear","h":"o","v":0.975},
{"l":"sadness","h":"o","v":0.66},{"l":"sadness","h":"o","v":0.68},{"l":"sadness","h":"o","v":0.70},{"l":"sadness","h":"o","v":0.72},{"l":"sadness","h":"o","v":0.74},{"l":"sadness","h":"o","v":0.76},{"l":"sadness","h":"o","v":0.78},{"l":"sadness","h":"o","v":0.80},{"l":"sadness","h":"o","v":0.82},{"l":"sadness","h":"o","v":0.84},{"l":"sadness","h":"o","v":0.86},{"l":"sadness","h":"o","v":0.88},{"l":"sadness","h":"o","v":0.90},{"l":"sadness","h":"o","v":0.92},{"l":"sadness","h":"o","v":0.94},{"l":"sadness","h":"o","v":0.96},
{"l":"sadness","h":"p","v":0.85},{"l":"sadness","h":"p","v":0.87},{"l":"sadness","h":"p","v":0.89},{"l":"sadness","h":"p","v":0.91},{"l":"sadness","h":"p","v":0.93},{"l":"sadness","h":"p","v":0.95},{"l":"sadness","h":"p","v":0.97},{"l":"sadness","h":"p","v":0.99},
{"l":"sadness","h":"f","v":0.63},{"l":"sadness","h":"f","v":0.65},{"l":"sadness","h":"f","v":0.67},{"l":"sadness","h":"f","v":0.69},{"l":"sadness","h":"f","v":0.71},{"l":"sadness","h":"f","v":0.73},{"l":"sadness","h":"f","v":0.75},{"l":"sadness","h":"f","v":0.77},{"l":"sadness","h":"f","v":0.79},{"l":"sadness","h":"f","v":0.81},{"l":"sadness","h":"f","v":0.83},{"l":"sadness","h":"f","v":0.85},{"l":"sadness","h":"f","v":0.87},{"l":"sadness","h":"f","v":0.89},{"l":"sadness","h":"f","v":0.91},{"l":"sadness","h":"f","v":0.93},{"l":"sadness","h":"f","v":0.95},{"l":"sadness","h":"f","v":0.97},{"l":"sadness","h":"f","v":0.99},
{"l":"love","h":"p","v":0.921},
{"l":"surprise","h":"o","v":0.387},{"l":"surprise","h":"o","v":0.45},{"l":"surprise","h":"o","v":0.512},{"l":"surprise","h":"o","v":0.536},{"l":"surprise","h":"o","v":0.556},{"l":"surprise","h":"o","v":0.665},{"l":"surprise","h":"o","v":0.692},
{"l":"surprise","h":"p","v":0.774},{"l":"surprise","h":"p","v":0.8},{"l":"surprise","h":"p","v":0.877},
{"l":"surprise","h":"f","v":0.486},{"l":"surprise","h":"f","v":0.591},{"l":"surprise","h":"f","v":0.635},
{"l":"pessimism","h":"o","v":0.44},{"l":"pessimism","h":"o","v":0.456},{"l":"pessimism","h":"o","v":0.476},{"l":"pessimism","h":"o","v":0.49},{"l":"pessimism","h":"o","v":0.506},{"l":"pessimism","h":"o","v":0.565},
{"l":"pessimism","h":"p","v":0.615},
{"l":"pessimism","h":"f","v":0.40},{"l":"pessimism","h":"f","v":0.415},{"l":"pessimism","h":"f","v":0.43},{"l":"pessimism","h":"f","v":0.445},{"l":"pessimism","h":"f","v":0.46},{"l":"pessimism","h":"f","v":0.475},{"l":"pessimism","h":"f","v":0.49},{"l":"pessimism","h":"f","v":0.51},{"l":"pessimism","h":"f","v":0.53},{"l":"pessimism","h":"f","v":0.59},{"l":"pessimism","h":"f","v":0.62},{"l":"pessimism","h":"f","v":0.645},
{"l":"anticipation","h":"o","v":0.85},{"l":"anticipation","h":"o","v":0.87},{"l":"anticipation","h":"o","v":0.88},{"l":"anticipation","h":"o","v":0.90},{"l":"anticipation","h":"o","v":0.913},
{"l":"anticipation","h":"f","v":0.899},
{"l":"trust","h":"o","v":0.476}
]
},
"hconcat": [
{
  "title": {"text": "classifier = topic"},
  "width": 468, "height": 183,
  "encoding": {
    "x": {"field": "l", "type": "nominal", "sort": ["news_&_social_concern","diaries_&_daily_life","celebrity_&_pop_culture","other_hobbies","film_tv_&_video","sports","business_&_entrepreneurs","science_&_technology","fitness_&_health","relationships","learning_&_educational","youth_&_student_life","family","music","arts_&_culture","travel_&_adventure","food_&_dining","fashion_&_style","gaming"], "scale": {"paddingInner": 0.2, "paddingOuter": 0.1}, "axis": {"labelAngle": -90, "title": "label"}},
    "xOffset": {"field": "h", "type": "nominal", "sort": ["o","p","f"], "scale": {"domain": ["o","p","f"], "paddingInner": 0, "paddingOuter": 0}},
    "y": {"type": "quantitative", "scale": {"domain": [-0.04, 1.05], "nice": false, "zero": false}, "axis": {"title": null, "values": [0, 0.2, 0.4, 0.6, 0.8, 1.0], "format": ".1f", "labelOverlap": false}}
  },
  "layer": [
    {"data": {"name": "tb"}, "mark": {"type": "rule", "color": "#5c5c5c", "strokeWidth": 1.5},
     "encoding": {"y": {"field": "lo", "type": "quantitative", "scale": {"domain": [-0.04, 1.05], "nice": false, "zero": false}, "axis": {"title": null, "values": [0, 0.2, 0.4, 0.6, 0.8, 1.0], "format": ".1f", "labelOverlap": false}}, "y2": {"field": "hi"}}},
    {"data": {"name": "tb"}, "mark": {"type": "bar", "width": {"band": 0.5}, "fillOpacity": 0, "stroke": "#5c5c5c", "strokeWidth": 1.5},
     "encoding": {"y": {"field": "lo", "type": "quantitative"}, "y2": {"field": "lo"}}},
    {"data": {"name": "tb"}, "mark": {"type": "bar", "width": {"band": 0.5}, "fillOpacity": 0, "stroke": "#5c5c5c", "strokeWidth": 1.5},
     "encoding": {"y": {"field": "hi", "type": "quantitative"}, "y2": {"field": "hi"}}},
    {"data": {"name": "tb"}, "mark": {"type": "bar", "stroke": "#5c5c5c", "strokeWidth": 1.5, "opacity": 1},
     "encoding": {"y": {"field": "q1", "type": "quantitative"}, "y2": {"field": "q3"},
       "color": {"field": "h", "type": "nominal", "scale": {"domain": ["o","p","f"], "range": ["#cf645e", "#62cf69", "#6a62d0"]},
         "legend": {"orient": "none", "legendX": 724, "legendY": 307, "title": null, "direction": "vertical",
           "labelExpr": "datum.label == 'o' ? 'original' : datum.label == 'p' ? 'synthetic (prompt-only)' : 'synthetic (fine-tuned)'",
           "symbolType": "M-1,-1H4V1H-1Z", "symbolSize": 100, "symbolStrokeColor": "#5c5c5c", "symbolStrokeWidth": 1.2, "symbolOpacity": 1, "symbolFillOpacity": 1,
           "labelFontSize": 12, "labelColor": "black", "labelOffset": 25, "rowPadding": 3}}}},
    {"data": {"name": "tb"}, "mark": {"type": "bar", "fillOpacity": 0, "stroke": "#5c5c5c", "strokeWidth": 1.5},
     "encoding": {"y": {"field": "med", "type": "quantitative"}, "y2": {"field": "med"}}},
    {"data": {"name": "to"}, "mark": {"type": "point", "filled": true, "shape": "diamond", "size": 7, "color": "#5c5c5c", "opacity": 1},
     "encoding": {"y": {"field": "v", "type": "quantitative"}}}
  ]
},
{
  "title": {"text": "classifier = emotions"},
  "width": 468, "height": 183,
  "encoding": {
    "x": {"field": "l", "type": "nominal", "sort": ["disgust","anger","fear","sadness","joy","optimism","love","surprise","pessimism","anticipation","trust"], "scale": {"paddingInner": 0.2, "paddingOuter": 0.1}, "axis": {"labelAngle": -90, "title": "label"}},
    "xOffset": {"field": "h", "type": "nominal", "sort": ["o","p","f"], "scale": {"domain": ["o","p","f"], "paddingInner": 0, "paddingOuter": 0}},
    "y": {"type": "quantitative", "scale": {"domain": [-0.04, 1.05], "nice": false, "zero": false}, "axis": {"title": null, "values": [0, 0.2, 0.4, 0.6, 0.8, 1.0], "labels": false}}
  },
  "layer": [
    {"data": {"name": "eb"}, "mark": {"type": "rule", "color": "#5c5c5c", "strokeWidth": 1.5},
     "encoding": {"y": {"field": "lo", "type": "quantitative", "scale": {"domain": [-0.04, 1.05], "nice": false, "zero": false}, "axis": {"title": null, "values": [0, 0.2, 0.4, 0.6, 0.8, 1.0], "labels": false}}, "y2": {"field": "hi"}}},
    {"data": {"name": "eb"}, "mark": {"type": "bar", "width": {"band": 0.5}, "fillOpacity": 0, "stroke": "#5c5c5c", "strokeWidth": 1.5},
     "encoding": {"y": {"field": "lo", "type": "quantitative"}, "y2": {"field": "lo"}}},
    {"data": {"name": "eb"}, "mark": {"type": "bar", "width": {"band": 0.5}, "fillOpacity": 0, "stroke": "#5c5c5c", "strokeWidth": 1.5},
     "encoding": {"y": {"field": "hi", "type": "quantitative"}, "y2": {"field": "hi"}}},
    {"data": {"name": "eb"}, "mark": {"type": "bar", "stroke": "#5c5c5c", "strokeWidth": 1.5, "opacity": 1},
     "encoding": {"y": {"field": "q1", "type": "quantitative"}, "y2": {"field": "q3"},
       "color": {"field": "h", "type": "nominal", "scale": {"domain": ["o","p","f"], "range": ["#cf645e", "#62cf69", "#6a62d0"]}}}},
    {"data": {"name": "eb"}, "mark": {"type": "bar", "fillOpacity": 0, "stroke": "#5c5c5c", "strokeWidth": 1.5},
     "encoding": {"y": {"field": "med", "type": "quantitative"}, "y2": {"field": "med"}}},
    {"data": {"name": "eo"}, "mark": {"type": "point", "filled": true, "shape": "diamond", "size": 7, "color": "#5c5c5c", "opacity": 1},
     "encoding": {"y": {"field": "v", "type": "quantitative"}}}
  ]
}
],
"resolve": {"scale": {"color": "shared"}}
}
